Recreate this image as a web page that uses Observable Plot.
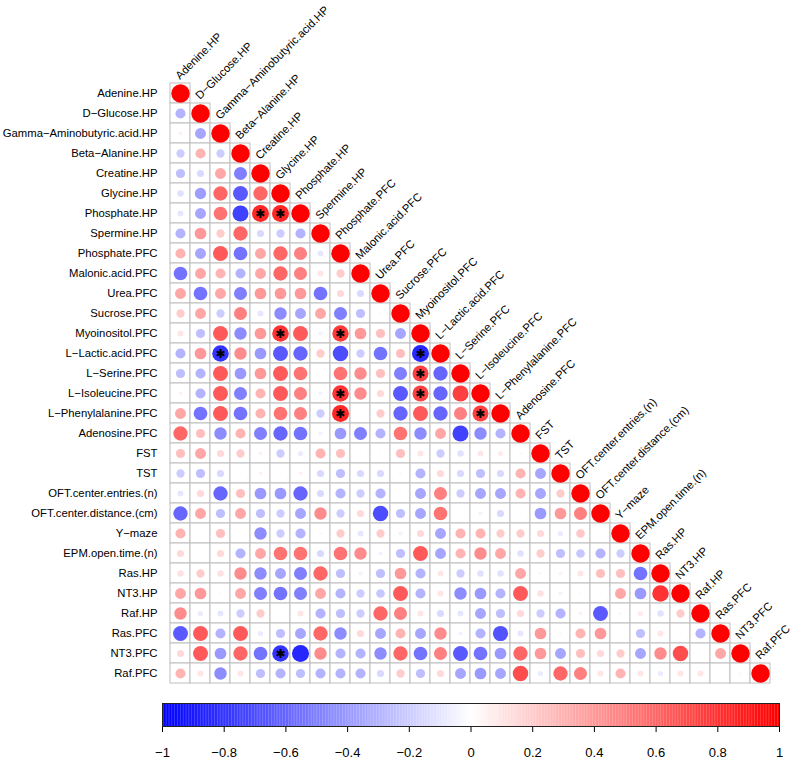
<!DOCTYPE html>
<html><head><meta charset="utf-8">
<script src="https://cdn.jsdelivr.net/npm/d3@7"></script>
<script src="https://cdn.jsdelivr.net/npm/@observablehq/plot@0.6"></script>
<style>body{margin:0;background:#fff;} svg{display:block;}</style>
</head><body><div id="chart"></div>
<script>
const variables = ["Adenine.HP","D-Glucose.HP","Gamma-Aminobutyric.acid.HP","Beta-Alanine.HP","Creatine.HP","Glycine.HP","Phosphate.HP","Spermine.HP","Phosphate.PFC","Malonic.acid.PFC","Urea.PFC","Sucrose.PFC","Myoinositol.PFC","L-Lactic.acid.PFC","L-Serine.PFC","L-Isoleucine.PFC","L-Phenylalanine.PFC","Adenosine.PFC","FST","TST","OFT.center.entries.(n)","OFT.center.distance.(cm)","Y-maze","EPM.open.time.(n)","Ras.HP","NT3.HP","Raf.HP","Ras.PFC","NT3.PFC","Raf.PFC"];

// lower-triangle correlation rows (row i has columns 1..i)
const r01 = [1];
const r02 = [-0.3, 1];
const r03 = [0.05, -0.35, 1];
const r04 = [-0.2, 0.3, -0.2, 1];
const r05 = [-0.25, -0.15, 0.35, -0.5, 1];
const r06 = [-0.12, -0.38, 0.6, -0.65, 0.6, 1];
const r07 = [-0.1, -0.35, 0.55, -0.75, 0.85, 0.85, 1];
const r08 = [-0.3, 0.4, 0.2, 0.6, -0.15, -0.2, -0.3, 1];
const r09 = [0.3, -0.35, 0.65, -0.55, 0.35, 0.6, 0.5, -0.1, 1];
const r10 = [-0.55, 0.35, 0.3, -0.3, 0.35, 0.6, 0.5, 0.1, 0.2, 1];
const r11 = [0.35, -0.55, 0.35, -0.5, 0.4, 0.4, 0.4, -0.55, 0.15, -0.15, 1];
const r12 = [0.2, 0.35, -0.2, 0.5, -0.1, -0.45, -0.35, 0.35, -0.5, -0.25, 0.02, 1];
const r13 = [0.1, -0.25, 0.65, -0.45, 0.4, 0.8, 0.65, -0.05, 0.78, 0.4, 0.25, -0.35, 1];
const r14 = [-0.3, 0.4, -0.8, 0.45, -0.4, -0.65, -0.6, 0.2, -0.7, -0.2, -0.55, 0.25, -0.85, 1];
const r15 = [-0.25, -0.3, 0.65, -0.4, 0.4, 0.65, 0.55, 0, 0.55, 0.45, 0.25, -0.5, 0.75, -0.6, 1];
const r16 = [0.05, -0.3, 0.65, -0.5, 0.3, 0.65, 0.5, -0.05, 0.8, 0.45, 0.15, -0.65, 0.75, -0.6, 0.75, 1];
const r17 = [0.35, -0.55, 0.65, -0.55, 0.3, 0.55, 0.5, -0.2, 0.85, 0, 0.2, -0.6, 0.65, -0.6, 0.5, 0.75, 1];
const r18 = [0.6, 0.25, -0.45, 0.3, -0.5, -0.6, -0.55, -0.05, -0.4, -0.5, -0.3, 0.55, -0.45, 0.35, -0.75, -0.45, -0.3, 1];
const r19 = [0.25, 0.35, 0.15, 0.2, 0.05, -0.2, -0.08, 0.3, 0.25, 0.02, 0.02, 0.25, 0.1, -0.2, -0.12, 0.1, 0.08, 0.03, 1];
const r20 = [-0.2, -0.25, -0.15, 0.02, 0.05, 0.02, 0.05, -0.15, -0.25, -0.15, -0.15, 0.03, -0.3, 0.15, -0.15, -0.25, -0.15, 0.3, -0.35, 1];
const r21 = [-0.1, 0.15, -0.6, 0.25, -0.4, -0.4, -0.6, -0.15, -0.3, -0.2, -0.3, 0.02, -0.35, 0.5, -0.2, -0.35, -0.35, 0.3, -0.35, 0.2, 1];
const r22 = [-0.6, 0.35, -0.25, 0.35, -0.25, -0.2, -0.35, 0.45, -0.2, 0.15, -0.7, -0.25, -0.35, 0.55, 0.01, -0.05, -0.15, 0.02, -0.4, 0.4, 0.5, 1];
const r23 = [0.3, 0, 0.25, 0.02, -0.45, -0.2, -0.3, 0.03, 0.2, -0.1, 0.2, -0.05, 0.15, -0.35, 0.3, 0.3, 0.2, 0.2, 0.15, -0.08, 0.22, 0, 1];
const r24 = [0.15, 0.01, 0.15, -0.3, 0.35, 0.55, 0.55, -0.15, 0.55, 0.45, -0.05, -0.25, 0.65, -0.35, 0.3, 0.45, 0.35, -0.12, 0.2, -0.25, -0.22, -0.3, -0.2, 1];
const r25 = [0.12, 0.2, 0.12, 0.45, -0.45, -0.35, -0.5, 0.6, -0.25, -0.05, -0.25, 0.4, -0.3, 0.1, -0.2, -0.12, -0.12, 0.35, -0.03, 0.05, 0.1, 0.25, 0.25, -0.55, 1];
const r26 = [0.35, 0.4, 0.02, 0.35, -0.5, -0.55, -0.5, 0.35, -0.3, -0.2, -0.22, 0.65, -0.3, 0.1, -0.45, -0.4, -0.3, 0.65, 0.12, -0.05, 0.02, 0.02, 0.35, -0.4, 0.8, 1];
const r27 = [0.45, -0.08, -0.1, -0.2, 0.2, 0, 0.1, -0.3, -0.25, -0.2, 0.6, 0.5, 0.1, -0.15, -0.1, -0.35, -0.25, 0.15, -0.2, -0.3, 0.05, -0.65, 0.03, 0.08, -0.12, 0.2, 1];
const r28 = [-0.65, 0.65, -0.3, 0.65, -0.08, -0.25, -0.35, 0.6, -0.45, 0.15, -0.35, 0.3, -0.35, 0.45, -0.05, -0.3, -0.68, -0.1, 0.4, -0.03, 0.3, 0.4, 0, -0.25, 0.1, 0.02, -0.3, 1];
const r29 = [0.15, 0.65, -0.4, 0.6, -0.55, -0.8, -0.85, 0.45, -0.3, -0.3, -0.45, 0.6, -0.55, 0.5, -0.65, -0.55, -0.4, 0.6, 0.4, -0.35, 0.25, 0.15, 0.2, -0.35, 0.45, 0.7, 0.02, 0.35, 1];
const r30 = [0.3, 0.1, -0.45, 0.1, -0.25, -0.3, -0.25, -0.3, -0.3, -0.3, -0.15, 0.2, -0.25, 0.15, -0.35, -0.4, -0.35, 0.7, -0.08, 0.6, 0.5, 0.1, 0.3, 0.1, -0.08, 0.1, 0.1, 0, 0.03, 1];

const rows = [r01,r02,r03,r04,r05,r06,r07,r08,r09,r10,r11,r12,r13,r14,r15,r16,r17,r18,r19,r20,r21,r22,r23,r24,r25,r26,r27,r28,r29,r30];

// significant cells (1-based row / column positions)
const starRow = [7, 7, 13, 13, 14, 14, 15, 16, 16, 17, 17, 29];
const starCol = [5, 6, 6, 9, 3, 13, 13, 9, 13, 9, 16, 6];

const colorbarTicks = [-1, -0.8, -0.6, -0.4, -0.2, 0, 0.2, 0.4, 0.6, 0.8, 1];
const colorbarLabels = ["\u22121", "\u22120.8", "\u22120.6", "\u22120.4", "\u22120.2", "0", "0.2", "0.4", "0.6", "0.8", "1"];

const disp = s => s.replace(/-/g, "\u2212");
const cells = [];
rows.forEach((row, i) => row.forEach((v, j) => cells.push({row: variables[i], col: variables[j], v})));
const stars = starRow.map((r, k) => ({row: variables[r - 1], col: variables[starCol[k] - 1]}));

const font = "'Liberation Sans', Arial, Helvetica, sans-serif";
const W = 800, H = 693, mL = 162, mR = 22, mT = 75, mB = 2;
const cellSize = (W - mL - mR) / variables.length;
const colorScale = {type: "linear", domain: [-1, 0, 1], range: ["#0000ff", "#ffffff", "#ff0000"], interpolate: "rgb"};

const main = Plot.plot({
  width: W, height: H, marginLeft: mL, marginRight: mR, marginTop: mT, marginBottom: mB,
  style: {fontFamily: font, fontSize: "11.3px", background: "#fff", color: "#000"},
  x: {type: "band", domain: variables, padding: 0, axis: null},
  y: {type: "band", domain: variables, padding: 0, tickSize: 0, tickPadding: 5, tickFormat: disp, label: null},
  color: colorScale,
  r: {type: "sqrt", domain: [0, 1], range: [0, 0.45 * cellSize]},
  marks: [
    Plot.cell(cells, {x: "col", y: "row", fill: "white", stroke: "#bebebe", strokeWidth: 1, inset: 0}),
    Plot.dot(cells, {x: "col", y: "row", r: d => Math.abs(d.v), fill: "v"}),
    Plot.dot(stars, {x: "col", y: "row", symbol: "asterisk", r: 4.2, stroke: "black", strokeWidth: 2}),
    Plot.text(variables, {x: d => d, y: d => d, text: disp, rotate: -45, textAnchor: "start", dx: -3, dy: -16, fill: "black", fontSize: 11.3})
  ]
});

const stops = d3.range(-1, 1, 0.005);
const bar = Plot.plot({
  width: 800, height: 68, marginLeft: 162, marginRight: 21, marginTop: 10, marginBottom: 35,
  style: {fontFamily: font, fontSize: "13px", background: "#fff", color: "#000"},
  x: {domain: [-1, 1], ticks: 10, tickSize: 6, tickPadding: 15,
      tickFormat: d => colorbarLabels[colorbarTicks.findIndex(t => Math.abs(t - d) < 1e-9)], label: null},
  y: {domain: [0, 1], axis: null},
  color: colorScale,
  marks: [
    Plot.rect(stops, {x1: d => d, x2: d => Math.min(1, d + 0.0055), y1: 0, y2: 1, fill: d => d + 0.0025}),
    Plot.frame({stroke: "#222", strokeWidth: 1})
  ]
});

const root = document.getElementById("chart");
root.appendChild(main);
root.appendChild(bar);
</script>
</body></html>
